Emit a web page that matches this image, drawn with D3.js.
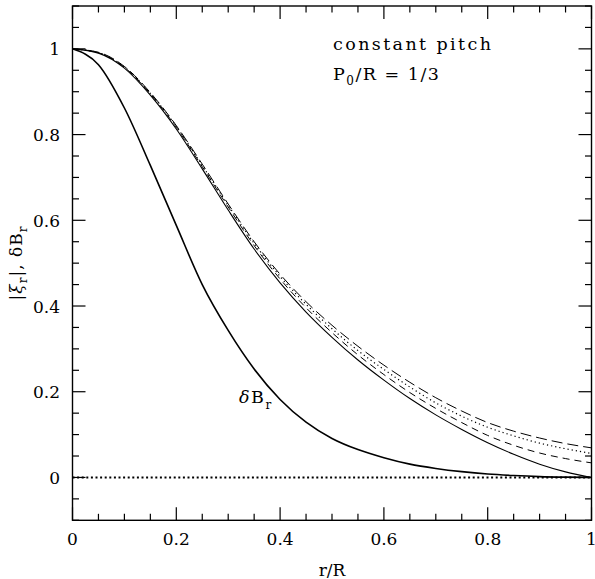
<!DOCTYPE html>
<html><head><meta charset="utf-8">
<script src="https://cdn.jsdelivr.net/npm/d3@7"></script>
<style>body{margin:0;background:#fff}text{font-family:"DejaVu Serif",serif;fill:#000}</style>
</head><body><svg id="c" width="595" height="579"></svg>
<script>
const rVals = [0,0.05,0.10,0.15,0.20,0.25,0.30,0.35,0.40,0.45,0.50,0.55,0.60,0.65,0.70,0.75,0.80,0.85,0.90,0.95,1.00];
const dBr      = [1,0.963,0.862,0.728,0.588,0.450,0.343,0.253,0.182,0.129,0.091,0.065,0.046,0.031,0.021,0.0135,0.008,0.0045,0.002,0.0007,0];
const xiSolid  = [1,0.990,0.955,0.892,0.813,0.720,0.624,0.533,0.454,0.386,0.327,0.274,0.227,0.184,0.146,0.112,0.081,0.054,0.031,0.013,0];
const xiDashed = [1,0.991,0.957,0.895,0.817,0.725,0.631,0.541,0.463,0.396,0.338,0.286,0.240,0.198,0.161,0.128,0.098,0.075,0.057,0.044,0.034];
const xiDotted = [1,0.991,0.958,0.896,0.819,0.728,0.635,0.546,0.469,0.404,0.347,0.296,0.252,0.211,0.174,0.143,0.117,0.097,0.080,0.067,0.056];
const xiLong   = [1,0.992,0.959,0.898,0.821,0.731,0.638,0.550,0.474,0.410,0.355,0.306,0.262,0.222,0.186,0.155,0.128,0.108,0.092,0.079,0.069];
const xTicks = [0,0.2,0.4,0.6,0.8,1];
const xTickLabels = ["0","0.2","0.4","0.6","0.8","1"];
const yTicks = [0,0.2,0.4,0.6,0.8,1];
const yTickLabels = ["0","0.2","0.4","0.6","0.8","1"];

const svg = d3.select("#c");
const L=72.5, R=591.5, T=6, B=520.3;
const x = d3.scaleLinear().domain([0,1]).range([L,R]);
const y = d3.scaleLinear().domain([-0.1,1.1]).range([B,T]);

const minorX = d3.range(0,1.0001,0.05);
const minorY = d3.range(-0.1,1.1001,0.05);
const isMajor = v => Math.abs(v*5 - Math.round(v*5))<1e-6;
const tk = svg.append("g").attr("stroke","#000").attr("stroke-width",1.2);
minorX.forEach(v=>{
  const len = isMajor(v)?13:6.5;
  tk.append("line").attr("x1",x(v)).attr("x2",x(v)).attr("y1",B).attr("y2",B-len);
  tk.append("line").attr("x1",x(v)).attr("x2",x(v)).attr("y1",T).attr("y2",T+len);
});
minorY.forEach(v=>{
  const len = isMajor(v)?13:6.5;
  tk.append("line").attr("y1",y(v)).attr("y2",y(v)).attr("x1",L).attr("x2",L+len);
  tk.append("line").attr("y1",y(v)).attr("y2",y(v)).attr("x1",R).attr("x2",R-len);
});
svg.append("rect").attr("x",L).attr("y",T).attr("width",R-L).attr("height",B-T)
  .attr("fill","none").attr("stroke","#000").attr("stroke-width",1.4);

svg.append("g").selectAll("text").data(xTicks).join("text")
  .attr("x",d=>x(d)).attr("y",545).attr("text-anchor","middle").attr("font-size",17)
  .text((d,i)=>xTickLabels[i]);
svg.append("g").selectAll("text").data(yTicks).join("text")
  .attr("x",60).attr("y",d=>y(d)+6.5).attr("text-anchor","end").attr("font-size",17)
  .text((d,i)=>yTickLabels[i]);

svg.append("line").attr("x1",x(0)).attr("x2",x(1)).attr("y1",y(0)).attr("y2",y(0))
  .attr("stroke","#000").attr("stroke-width",2).attr("stroke-dasharray","2,2.6");

const line = arr => d3.line().x((d,i)=>x(rVals[i])).y(d=>y(d)).curve(d3.curveMonotoneX)(arr);
const curves = [
  {d:xiLong, dash:"11,5", w:1},
  {d:xiDotted, dash:"1.2,3", w:1.2},
  {d:xiDashed, dash:"7,5", w:1},
  {d:xiSolid, dash:null, w:1.1},
  {d:dBr, dash:null, w:1.6}
];
curves.forEach(c=>{
  const p = svg.append("path").attr("d",line(c.d)).attr("fill","none")
    .attr("stroke","#000").attr("stroke-width",c.w);
  if(c.dash) p.attr("stroke-dasharray",c.dash);
});

svg.append("text").attr("x",333).attr("y",49.5).attr("font-size",17.5)
  .attr("letter-spacing",2.4).text("constant pitch");
const t2 = svg.append("text").attr("x",333).attr("y",79.5).attr("font-size",17.5).attr("letter-spacing",1.5);
t2.append("tspan").text("P");
t2.append("tspan").attr("dy",5).attr("font-size",12).text("0");
t2.append("tspan").attr("dy",-5).attr("xml:space","preserve").text("/R\u00a0=\u00a01/3");

const t3 = svg.append("text").attr("x",239).attr("y",402.5).attr("font-size",17.5).attr("letter-spacing",1.5);
t3.append("tspan").attr("font-style","italic").text("δ");
t3.append("tspan").text("B");
t3.append("tspan").attr("dy",6).attr("font-size",12).text("r");

svg.append("text").attr("x",(L+R)/2).attr("y",576).attr("text-anchor","middle").attr("font-size",17).text("r/R");

const yl = svg.append("text").attr("transform","translate(22,263) rotate(-90)")
  .attr("text-anchor","middle").attr("font-size",17).attr("letter-spacing",1);
yl.append("tspan").text("|");
yl.append("tspan").attr("font-style","italic").text("ξ");
yl.append("tspan").attr("dy",5).attr("font-size",12).text("r");
yl.append("tspan").attr("dy",-5).text("|, δB");
yl.append("tspan").attr("dy",5).attr("font-size",12).text("r");
</script></body></html>
